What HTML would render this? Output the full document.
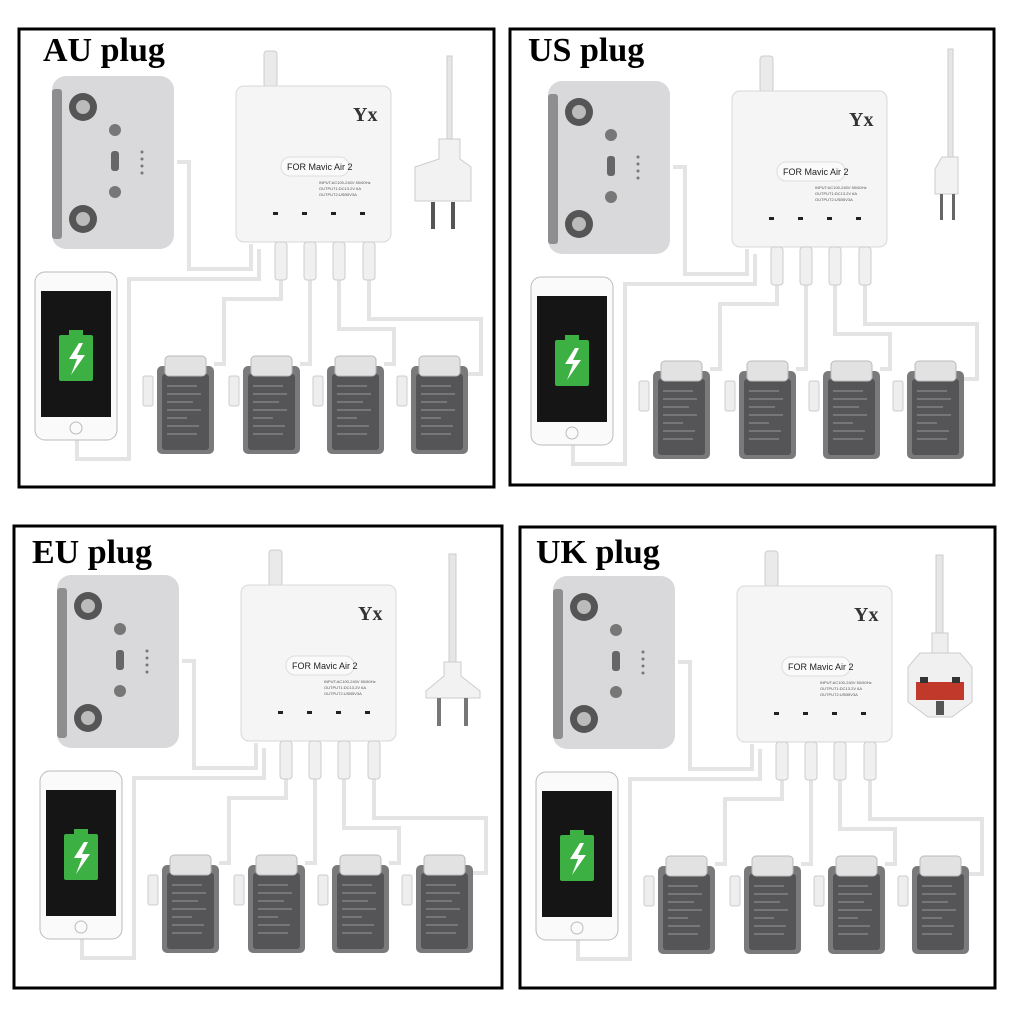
<!DOCTYPE html>
<html><head><meta charset="utf-8"><style>
html,body{margin:0;padding:0;background:#fff;width:1010px;height:1010px;overflow:hidden}
svg{display:block}
.t{font-family:"Liberation Serif",serif;font-weight:bold;font-size:34px;fill:#000}
.m{font-family:"Liberation Sans",sans-serif;font-size:9px;fill:#222}
.s{font-family:"Liberation Sans",sans-serif;font-size:4px;fill:#555}
</style></head><body>
<svg width="1010" height="1010" viewBox="0 0 1010 1010" xmlns="http://www.w3.org/2000/svg">
<defs>
<g id="bat">
  <rect x="0" y="10" width="57" height="88" rx="5" fill="#7a7a7c"/>
  <rect x="5" y="18" width="47" height="76" rx="3" fill="#555557"/>
  <rect x="8" y="0" width="41" height="20" rx="4" fill="#e2e2e2" stroke="#bbb"/>
  <rect x="-14" y="20" width="10" height="30" rx="2" fill="#eee" stroke="#ccc"/>
  <g stroke="#999" stroke-width="1">
   <line x1="10" y1="30" x2="40" y2="30"/><line x1="10" y1="38" x2="44" y2="38"/>
   <line x1="10" y1="46" x2="36" y2="46"/><line x1="10" y1="54" x2="44" y2="54"/>
   <line x1="10" y1="62" x2="30" y2="62"/><line x1="10" y1="70" x2="42" y2="70"/><line x1="10" y1="78" x2="40" y2="78"/>
  </g>
</g>
<g id="kit">
  <g fill="none" stroke="#e4e4e4" stroke-width="4">
    <path d="M158 133 H170 V240 H232 V215"/>
    <path d="M240 220 V250 H110 V430 H58 V410"/>
    <path d="M262 250 V270 H205 V335 H195"/>
    <path d="M291 250 V335 H281"/>
    <path d="M320 250 V300 H375 V335 H365"/>
    <path d="M350 250 V290 H462 V345 H448"/>
  </g>
  <rect x="33" y="47" width="122" height="173" rx="14" fill="#d9d9db"/>
  <rect x="33" y="60" width="10" height="150" rx="3" fill="#8e8e90"/>
  <circle cx="64" cy="78" r="14" fill="#555"/><circle cx="64" cy="78" r="7" fill="#bbb"/>
  <circle cx="64" cy="190" r="14" fill="#555"/><circle cx="64" cy="190" r="7" fill="#bbb"/>
  <circle cx="96" cy="101" r="6" fill="#777"/><circle cx="96" cy="163" r="6" fill="#777"/>
  <rect x="92" y="122" width="8" height="20" rx="3" fill="#666"/>
  <g fill="#777"><circle cx="123" cy="123" r="1.5"/><circle cx="123" cy="130" r="1.5"/><circle cx="123" cy="137" r="1.5"/><circle cx="123" cy="144" r="1.5"/></g>
  <rect x="245" y="22" width="13" height="36" rx="3" fill="#eaeaea" stroke="#ccc"/>
  <rect x="217" y="57" width="155" height="156" rx="8" fill="#f5f5f5" stroke="#d8d8d8"/>
  <rect x="262" y="128" width="68" height="19" rx="9" fill="#fafafa" stroke="#ddd"/>
  <g fill="#222"><rect x="254" y="183" width="5" height="3"/><rect x="283" y="183" width="5" height="3"/><rect x="312" y="183" width="5" height="3"/><rect x="341" y="183" width="5" height="3"/></g>
  <g fill="#f0f0f0" stroke="#ccc"><rect x="256" y="213" width="12" height="38" rx="3"/><rect x="285" y="213" width="12" height="38" rx="3"/><rect x="314" y="213" width="12" height="38" rx="3"/><rect x="344" y="213" width="12" height="38" rx="3"/></g>
  <rect x="16" y="243" width="82" height="168" rx="10" fill="#fafafa" stroke="#bbb"/>
  <rect x="22" y="262" width="70" height="126" fill="#151515"/>
  <circle cx="57" cy="399" r="6" fill="none" stroke="#bbb"/>
  <rect x="40" y="306" width="34" height="46" rx="2" fill="#3cb043"/>
  <rect x="50" y="301" width="14" height="6" fill="#3cb043"/>
  <path d="M60 314 L50 330 H58 L52 346 L66 326 H58 L64 314Z" fill="#fff"/>
  <use href="#bat" x="138" y="327"/><use href="#bat" x="224" y="327"/>
  <use href="#bat" x="308" y="327"/><use href="#bat" x="392" y="327"/>
</g>
</defs>

<g transform="translate(19,29)">
  <rect x="0" y="0" width="475" height="458" fill="#fff" stroke="#000" stroke-width="3"/>
  <use href="#kit"/>
  <text class="t" x="24" y="32">AU plug</text>
  <text class="m" x="268" y="141">FOR Mavic Air 2</text>
  <text class="s" x="300" y="155">INPUT:AC100-240V 50/60Hz</text>
  <text class="s" x="300" y="161">OUTPUT1:DC13.2V 6A</text>
  <text class="s" x="300" y="167">OUTPUT2:USB5V3A</text>
  <text x="334" y="92" font-family="Liberation Serif,serif" font-weight="bold" font-size="20" fill="#333">Yx</text>
  <rect x="428" y="27" width="5" height="85" fill="#e6e6e6" stroke="#ccc"/>
  <path d="M420 110 H441 V130 L452 138 V172 H396 V138 L420 130Z" fill="#f2f2f2" stroke="#ccc"/>
  <rect x="412" y="173" width="4" height="27" fill="#555"/><rect x="432" y="173" width="4" height="27" fill="#555"/>
</g>

<g transform="translate(510,29)">
  <rect x="0" y="0" width="484" height="456" fill="#fff" stroke="#000" stroke-width="3"/>
  <g transform="translate(5,5)"><use href="#kit"/>
  <text class="m" x="268" y="141">FOR Mavic Air 2</text>
  <text class="s" x="300" y="155">INPUT:AC100-240V 50/60Hz</text>
  <text class="s" x="300" y="161">OUTPUT1:DC13.2V 6A</text>
  <text class="s" x="300" y="167">OUTPUT2:USB5V3A</text>
  <text x="334" y="92" font-family="Liberation Serif,serif" font-weight="bold" font-size="20" fill="#333">Yx</text></g>
  <text class="t" x="18" y="32">US plug</text>
  <rect x="438" y="20" width="5" height="110" fill="#e6e6e6" stroke="#ccc"/>
  <path d="M432 128 H448 V165 H425 V140Z" fill="#f2f2f2" stroke="#ccc"/>
  <rect x="430" y="165" width="3" height="26" fill="#666"/><rect x="442" y="165" width="3" height="26" fill="#666"/>
</g>

<g transform="translate(14,526)">
  <rect x="0" y="0" width="488" height="462" fill="#fff" stroke="#000" stroke-width="3"/>
  <g transform="translate(10,2)"><use href="#kit"/>
  <text class="m" x="268" y="141">FOR Mavic Air 2</text>
  <text class="s" x="300" y="155">INPUT:AC100-240V 50/60Hz</text>
  <text class="s" x="300" y="161">OUTPUT1:DC13.2V 6A</text>
  <text class="s" x="300" y="167">OUTPUT2:USB5V3A</text>
  <text x="334" y="92" font-family="Liberation Serif,serif" font-weight="bold" font-size="20" fill="#333">Yx</text></g>
  <text class="t" x="18" y="37">EU plug</text>
  <rect x="435" y="28" width="7" height="110" fill="#e6e6e6" stroke="#ccc"/>
  <path d="M430 136 H447 V150 L466 165 V172 H412 V165 L430 150Z" fill="#f2f2f2" stroke="#ccc"/>
  <rect x="423" y="172" width="4" height="28" fill="#777"/><rect x="450" y="172" width="4" height="28" fill="#777"/>
</g>

<g transform="translate(520,527)">
  <rect x="0" y="0" width="475" height="461" fill="#fff" stroke="#000" stroke-width="3"/>
  <g transform="translate(0,2)"><use href="#kit"/>
  <text class="m" x="268" y="141">FOR Mavic Air 2</text>
  <text class="s" x="300" y="155">INPUT:AC100-240V 50/60Hz</text>
  <text class="s" x="300" y="161">OUTPUT1:DC13.2V 6A</text>
  <text class="s" x="300" y="167">OUTPUT2:USB5V3A</text>
  <text x="334" y="92" font-family="Liberation Serif,serif" font-weight="bold" font-size="20" fill="#333">Yx</text></g>
  <text class="t" x="16" y="36">UK plug</text>
  <rect x="416" y="28" width="7" height="80" fill="#e6e6e6" stroke="#ccc"/>
  <rect x="412" y="106" width="16" height="22" fill="#eee" stroke="#ccc"/>
  <path d="M400 126 H440 L452 140 V175 L432 190 H408 L388 175 V140Z" fill="#f0f0f0" stroke="#ccc"/>
  <rect x="396" y="155" width="48" height="18" fill="#c0392b"/>
  <rect x="400" y="150" width="8" height="6" fill="#333"/><rect x="432" y="150" width="8" height="6" fill="#333"/>
  <rect x="416" y="174" width="8" height="14" fill="#555"/>
</g>
</svg>
</body></html>
